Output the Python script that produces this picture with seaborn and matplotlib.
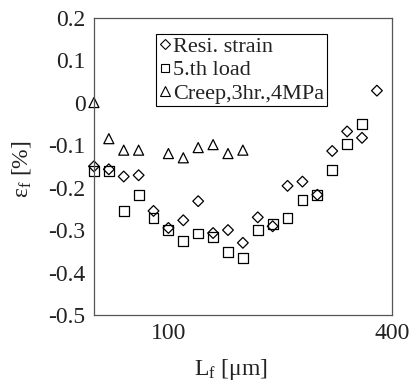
import numpy as np
import pandas as pd
import matplotlib
matplotlib.use("Agg")
import matplotlib.pyplot as plt
from matplotlib.lines import Line2D
import seaborn as sns

# ---- data ----
x_resi = [0, 20, 40, 60, 80, 100, 120, 140, 160, 180, 200, 220, 240, 260, 280, 300, 320, 340, 360, 380]
y_resi = [-0.150, -0.157, -0.174, -0.171, -0.255, -0.295, -0.277, -0.232, -0.307, -0.300,
          -0.330, -0.270, -0.291, -0.196, -0.186, -0.217, -0.114, -0.068, -0.083, 0.028]
x_load = [0, 20, 40, 60, 80, 100, 120, 140, 160, 180, 200, 220, 240, 260, 280, 300, 320, 340, 360]
y_load = [-0.161, -0.161, -0.255, -0.218, -0.271, -0.300, -0.326, -0.308, -0.317, -0.352,
          -0.366, -0.300, -0.285, -0.271, -0.230, -0.217, -0.159, -0.098, -0.051]
x_creep = [0, 20, 40, 60, 100, 120, 140, 160, 180, 200]
y_creep = [0.000, -0.085, -0.112, -0.112, -0.120, -0.130, -0.106, -0.099, -0.120, -0.112]

labels = ["Resi. strain", "5.th load", "Creep,3hr.,4MPa"]
yticks = [0.2, 0.1, 0.0, -0.1, -0.2, -0.3, -0.4, -0.5]
ytick_labels = ["0.2", "0.1", "0", "-0.1", "-0.2", "-0.3", "-0.4", "-0.5"]
xticks = [0, 100, 200, 300, 400]
xtick_labels = ["", "100", "", "", "400"]

sns.set_theme(style="white")
plt.rcParams["font.family"] = ["Liberation Serif", "DejaVu Serif"]
plt.rcParams["mathtext.fontset"] = "custom"
plt.rcParams["mathtext.rm"] = "Liberation Serif"
plt.rcParams["mathtext.it"] = "Liberation Serif:italic"

fig = plt.figure(figsize=(4.12, 3.81), dpi=100)
ax = fig.add_axes([0.228, 0.173, 0.723, 0.781])

common = dict(facecolor="none", edgecolor="black", linewidth=0.9, ax=ax,
              legend=False, clip_on=False)
sns.scatterplot(x=x_resi, y=y_resi, marker="D", s=30, **common)
sns.scatterplot(x=x_load, y=y_load, marker="s", s=50, **common)
sns.scatterplot(x=x_creep, y=y_creep, marker="^", s=52, **common)
for coll in ax.collections:
    coll.set_facecolor("none")
    coll.set_edgecolor("black")

ax.set_xlim(0, 400)
ax.set_ylim(-0.5, 0.2)
ax.set_yticks(yticks)
ax.set_yticklabels(ytick_labels)
ax.set_xticks(xticks)
ax.set_xticklabels(xtick_labels)
ax.tick_params(axis="both", direction="inout", length=6, width=0.8,
               color="#555555", labelsize=17, pad=3, labelcolor="#222222")
for sp in ax.spines.values():
    sp.set_color("#555555")
    sp.set_linewidth(0.9)

ax.set_xlabel(r"L$_\mathrm{f}$ [μm]", fontsize=17, color="#222222")
ax.xaxis.set_label_coords(0.46, -0.14)
ax.set_ylabel(r"ε$_\mathrm{f}$ [%]", fontsize=17, color="#222222")
ax.yaxis.set_label_coords(-0.205, 0.49)

handles = [Line2D([], [], marker=m, linestyle="none", markerfacecolor="none",
                  markeredgecolor="black", markersize=ms, markeredgewidth=0.8)
           for m, ms in [("D", 4.8), ("s", 6.2), ("^", 6.5)]]
leg = ax.legend(handles, labels, loc="upper left", bbox_to_anchor=(0.208, 0.945),
                fontsize=16, frameon=True, fancybox=False, handlelength=0.55,
                handletextpad=0.12, borderpad=0.12, labelspacing=0.12,
                borderaxespad=0, framealpha=1)
for t in leg.get_texts():
    t.set_color("#222222")
leg.get_frame().set_edgecolor("black")
leg.get_frame().set_linewidth(0.8)

fig.savefig("out.png", dpi=100)
